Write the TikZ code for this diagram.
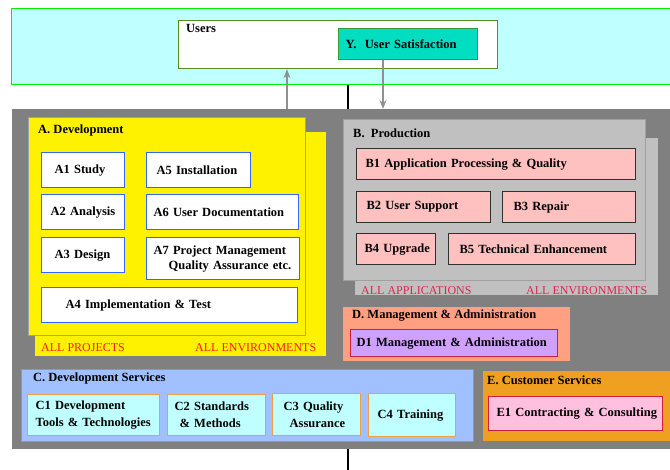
\documentclass[tikz,border=0pt]{standalone}
\usepackage{fontspec}
\setmainfont{Liberation Serif}
\usetikzlibrary{arrows.meta}
\usepackage{xcolor}
\definecolor{bandcyan}{HTML}{C0FFFF}
\definecolor{bandgreen}{HTML}{00F000}
\definecolor{userolive}{HTML}{5A8C1E}
\definecolor{ysatfill}{HTML}{00DDC0}
\definecolor{ysatgreen}{HTML}{3A9A3A}
\definecolor{basegray}{HTML}{808080}
\definecolor{edgegray}{HTML}{A0A0A0}
\definecolor{arrowgray}{HTML}{909090}
\definecolor{ablue}{HTML}{3366FF}
\definecolor{allred}{HTML}{FF1A1A}
\definecolor{prodgray}{HTML}{C0C0C0}
\definecolor{bpink}{HTML}{FFC0C0}
\definecolor{bedge}{HTML}{303030}
\definecolor{appcrimson}{HTML}{E0244C}
\definecolor{mgmtsalmon}{HTML}{FFA080}
\definecolor{lavender}{HTML}{D0A0FF}
\definecolor{crimsonedge}{HTML}{D02040}
\definecolor{servblue}{HTML}{A0C0FF}
\definecolor{servedge}{HTML}{8898B8}
\definecolor{cfill}{HTML}{C0FFFF}
\definecolor{cedge}{HTML}{F0A040}
\definecolor{custorange}{HTML}{F0A020}
\definecolor{epink}{HTML}{FFC0E0}

\begin{document}
\begin{tikzpicture}[x=1pt,y=-1pt,
    every node/.style={font=\fontsize{12.5}{15}\selectfont\bfseries},
    panel/.style 2 args={minimum width=#1,minimum height=#2,anchor=north west,inner sep=0pt},
    cell/.style n args={3}{minimum width=#1,minimum height=#2,inner xsep=#3,inner ysep=0pt,
      text width=#1-2*#3,align=left,anchor=north west},
    heading/.style={anchor=west,inner sep=0pt},
    tag/.style={font=\fontsize{12}{14}\selectfont\mdseries,anchor=west,inner sep=0pt},
    flow/.style={draw=arrowgray,line width=1.3pt,-{Stealth[length=9pt,width=7pt]}},
    acell/.style={draw=ablue,fill=white,line width=1.3pt},
    bcell/.style={draw=bedge,fill=bpink,line width=1.3pt},
    ccell/.style={draw=cedge,fill=cfill,line width=1.3pt}]
  \useasboundingbox (0,0) rectangle (670,470);

  % spine behind everything
  \coordinate (spinetop) at (348,84);
  \coordinate (spinebot) at (348,470);
  \draw[line width=1.6pt] (spinetop) -- (spinebot);

  % users
  \node[panel={662}{76},fill=bandcyan,draw=bandgreen,line width=1.3pt] (usersband) at (11,8) {};
  \node[panel={319}{48},fill=white,draw=userolive,line width=1.2pt] (users) at (178,20) {};
  \node[heading] (userstitle) at (186,28) {Users};
  \node[cell={139}{31}{7},fill=ysatfill,draw=ysatgreen,line width=1.2pt] (ysat) at (338,28) {Y.\ \ User Satisfaction};

  \node[panel={661}{340},fill=basegray] (base) at (12,109) {};

  \coordinate (uptail) at (287,109);
  \draw[flow] (uptail) -- (uptail |- users.south);
  \coordinate (downhead) at (383,109);
  \draw[flow] (ysat.south -| downhead) -- (downhead);

  % A. Development
  \node[panel={291}{224},fill=yellow] (devshadow) at (35,132) {};
  \node[panel={277}{218},fill=yellow,draw=edgegray,line width=0.8pt] (dev) at (28,117) {};
  \node[heading] (devtitle) at (38,130) {A. Development};
  \node[cell={83}{35}{13},acell] (a1) at (41,152) {\mbox{A1 Study}};
  \node[cell={83}{35}{9},acell] (a2) at (41,194) {\mbox{A2 Analysis}};
  \node[cell={83}{35}{13},acell] (a3) at (41,237) {\mbox{A3 Design}};
  \node[cell={256}{35}{24},acell] (a4) at (41,287) {A4 Implementation \& Test};
  \node[cell={104}{35}{10},acell] (a5) at (146,152) {\mbox{A5 Installation}};
  \node[cell={152}{35}{7},acell] (a6) at (146,194) {A6 User Documentation};
  \node[cell={153}{42}{7},acell] (a7) at (146,237) {\mbox{A7 Project Management}\\\hspace*{15pt}\mbox{Quality Assurance etc.}};
  \node[tag,text=allred] (allprojects) at (41,348) {ALL PROJECTS};
  \node[tag,text=allred] (allenvdev) at (195,348) {ALL ENVIRONMENTS};

  % B. Production
  \node[panel={303}{157},fill=prodgray] (prodshadow) at (355,138) {};
  \node[panel={302}{161},fill=prodgray,draw=edgegray,line width=0.8pt] (prod) at (343,119) {};
  \node[heading] (prodtitle) at (353,133) {B.\ \ Production};
  \node[cell={279}{31}{9},bcell] (b1) at (356,148) {B1 Application Processing \& Quality};
  \node[cell={134}{31}{10},bcell] (b2) at (356,191) {B2 User Support};
  \node[cell={133}{31}{11},bcell] (b3) at (502,191) {B3 Repair};
  \node[cell={79}{31}{8},bcell] (b4) at (356,233) {\mbox{B4 Upgrade}};
  \node[cell={187}{31}{11},bcell] (b5) at (448,233) {B5 Technical Enhancement};
  \node[tag,text=appcrimson] (allapps) at (361,291) {ALL APPLICATIONS};
  \node[tag,text=appcrimson] (allenvprod) at (526,291) {ALL ENVIRONMENTS};

  % D. Management
  \node[panel={227}{54},fill=mgmtsalmon] (mgmt) at (343,307) {};
  \node[heading] (mgmttitle) at (352,316) {D. Management \& Administration};
  \node[cell={207}{27}{6},fill=lavender,draw=crimsonedge,line width=1.2pt] (d1) at (350,329) {\mbox{D1 Management \& Administration}};

  % C. Development Services
  \node[panel={452}{72},fill=servblue,draw=servedge,line width=0.8pt] (devserv) at (21,369) {};
  \node[heading] (devservtitle) at (33,378) {C. Development Services};
  \node[cell={132}{41}{8},ccell] (c1) at (27,394) {\mbox{C1 Development}\\[2pt]\mbox{Tools \& Technologies}};
  \node[cell={98}{41}{7},ccell] (c2) at (167,394) {\mbox{C2 Standards}\\[2pt]\hspace*{5pt}\mbox{\& Methods}};
  \node[cell={88}{42}{11},ccell] (c3) at (272,393) {\mbox{C3 Quality}\\[2pt]\hspace*{6pt}Assurance};
  \node[cell={87}{43}{9},ccell] (c4) at (368,393) {\mbox{C4 Training}};

  % E. Customer Services
  \node[panel={190}{70},fill=custorange] (custserv) at (483,371) {};
  \node[heading] (custservtitle) at (487,380) {E. Customer Services};
  \node[cell={174}{34}{8},fill=epink,draw=crimsonedge,line width=1.2pt] (e1) at (488,396) {\mbox{E1 Contracting \& Consulting}};
\end{tikzpicture}
\end{document}
